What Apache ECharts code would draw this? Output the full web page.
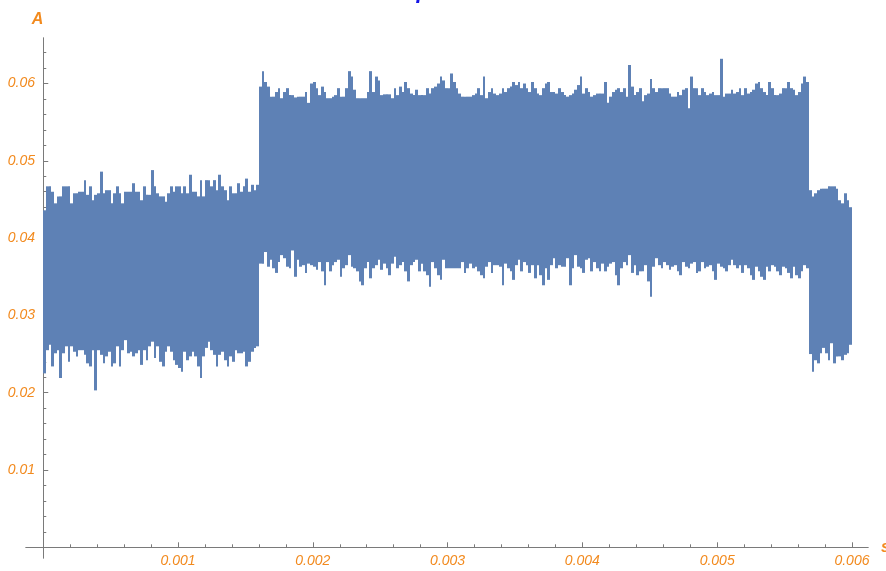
<!DOCTYPE html>
<html>
<head>
<meta charset="utf-8">
<title>Current trace</title>
<script src="https://cdn.jsdelivr.net/npm/echarts@6/dist/echarts.min.js"></script>
<style>
  html, body { margin: 0; padding: 0; background: #ffffff; }
  #chart { width: 886px; height: 571px; }
</style>
</head>
<body>
<div id="chart"></div>
<script>
// Sampled current (A): each sample holds the trough and crest of the fast oscillation
// over one sampling interval. Three segments: low level, high level, low level again.
const sampleStep = 0.00002; // s

const leftStart = 0;
const leftUpper = [
  0.0436, 0.0467, 0.0467, 0.0460, 0.0445, 0.0454, 0.0454, 0.0467, 0.0467, 0.0467,
  0.0445, 0.0458, 0.0458, 0.0460, 0.0460, 0.0475, 0.0456, 0.0467, 0.0449, 0.0456,
  0.0458, 0.0486, 0.0458, 0.0462, 0.0462, 0.0445, 0.0458, 0.0467, 0.0458, 0.0445,
  0.0460, 0.0460, 0.0460, 0.0471, 0.0460, 0.0460, 0.0449, 0.0467, 0.0456, 0.0456,
  0.0488, 0.0467, 0.0458, 0.0454, 0.0454, 0.0447, 0.0458, 0.0467, 0.0460, 0.0467,
  0.0467, 0.0458, 0.0467, 0.0458, 0.0482, 0.0460, 0.0460, 0.0454, 0.0475, 0.0454,
  0.0475, 0.0475, 0.0467, 0.0475, 0.0462, 0.0482, 0.0467, 0.0462, 0.0449, 0.0467,
  0.0458, 0.0458, 0.0471, 0.0460, 0.0467, 0.0477, 0.0460, 0.0469, 0.0462, 0.0469
];
const leftLower = [
  0.0225, 0.0255, 0.0262, 0.0234, 0.0251, 0.0255, 0.0219, 0.0251, 0.0260, 0.0240,
  0.0260, 0.0253, 0.0247, 0.0255, 0.0255, 0.0249, 0.0238, 0.0234, 0.0255, 0.0203,
  0.0255, 0.0249, 0.0238, 0.0247, 0.0253, 0.0234, 0.0238, 0.0260, 0.0234, 0.0255,
  0.0268, 0.0251, 0.0253, 0.0247, 0.0251, 0.0255, 0.0236, 0.0255, 0.0242, 0.0260,
  0.0266, 0.0245, 0.0260, 0.0240, 0.0234, 0.0253, 0.0260, 0.0253, 0.0242, 0.0236,
  0.0232, 0.0227, 0.0253, 0.0242, 0.0247, 0.0253, 0.0247, 0.0234, 0.0219, 0.0247,
  0.0258, 0.0266, 0.0255, 0.0249, 0.0234, 0.0249, 0.0253, 0.0242, 0.0234, 0.0247,
  0.0240, 0.0255, 0.0251, 0.0251, 0.0253, 0.0234, 0.0240, 0.0253, 0.0258, 0.0260
];

const highStart = 0.0016;
const highUpper = [
  0.0596, 0.0616, 0.0602, 0.0596, 0.0583, 0.0583, 0.0589, 0.0594, 0.0581, 0.0589,
  0.0594, 0.0585, 0.0585, 0.0582, 0.0583, 0.0583, 0.0583, 0.0589, 0.0575, 0.0600,
  0.0602, 0.0594, 0.0585, 0.0596, 0.0589, 0.0581, 0.0581, 0.0583, 0.0585, 0.0594,
  0.0583, 0.0583, 0.0594, 0.0616, 0.0609, 0.0592, 0.0581, 0.0581, 0.0581, 0.0581,
  0.0589, 0.0616, 0.0589, 0.0609, 0.0604, 0.0585, 0.0586, 0.0586, 0.0586, 0.0581,
  0.0594, 0.0585, 0.0596, 0.0589, 0.0602, 0.0594, 0.0587, 0.0585, 0.0592, 0.0585,
  0.0585, 0.0585, 0.0594, 0.0587, 0.0594, 0.0596, 0.0600, 0.0609, 0.0604, 0.0594,
  0.0594, 0.0613, 0.0602, 0.0594, 0.0587, 0.0583, 0.0583, 0.0583, 0.0583, 0.0585,
  0.0587, 0.0594, 0.0585, 0.0609, 0.0581, 0.0589, 0.0594, 0.0587, 0.0585, 0.0587,
  0.0594, 0.0589, 0.0594, 0.0596, 0.0602, 0.0598, 0.0602, 0.0594, 0.0600, 0.0594,
  0.0589, 0.0602, 0.0594, 0.0587, 0.0585, 0.0594, 0.0600, 0.0602, 0.0589, 0.0589,
  0.0587, 0.0594, 0.0589, 0.0585, 0.0583, 0.0585, 0.0587, 0.0592, 0.0598, 0.0609,
  0.0587, 0.0594, 0.0589, 0.0583, 0.0585, 0.0587, 0.0587, 0.0587, 0.0602, 0.0575,
  0.0583, 0.0589, 0.0592, 0.0594, 0.0589, 0.0594, 0.0583, 0.0624, 0.0596, 0.0585,
  0.0589, 0.0594, 0.0577, 0.0585, 0.0587, 0.0606, 0.0594, 0.0589, 0.0594, 0.0594,
  0.0594, 0.0594, 0.0587, 0.0583, 0.0583, 0.0589, 0.0585, 0.0592, 0.0594, 0.0568,
  0.0609, 0.0594, 0.0594, 0.0585, 0.0594, 0.0589, 0.0585, 0.0587, 0.0589, 0.0585,
  0.0585, 0.0632, 0.0583, 0.0587, 0.0587, 0.0592, 0.0587, 0.0589, 0.0594, 0.0585,
  0.0594, 0.0587, 0.0589, 0.0592, 0.0600, 0.0602, 0.0594, 0.0589, 0.0585, 0.0602,
  0.0594, 0.0585, 0.0585, 0.0587, 0.0594, 0.0594, 0.0602, 0.0594, 0.0592, 0.0585,
  0.0589, 0.0600, 0.0609, 0.0602
];
const highLower = [
  0.0367, 0.0367, 0.0382, 0.0363, 0.0372, 0.0361, 0.0355, 0.0369, 0.0378, 0.0374,
  0.0363, 0.0361, 0.0384, 0.0350, 0.0372, 0.0363, 0.0365, 0.0355, 0.0367, 0.0365,
  0.0363, 0.0359, 0.0369, 0.0357, 0.0339, 0.0369, 0.0357, 0.0365, 0.0369, 0.0372,
  0.0350, 0.0361, 0.0365, 0.0378, 0.0363, 0.0361, 0.0357, 0.0344, 0.0339, 0.0361,
  0.0369, 0.0348, 0.0361, 0.0365, 0.0372, 0.0359, 0.0367, 0.0361, 0.0352, 0.0367,
  0.0376, 0.0361, 0.0365, 0.0369, 0.0357, 0.0344, 0.0365, 0.0369, 0.0372, 0.0357,
  0.0367, 0.0357, 0.0352, 0.0337, 0.0369, 0.0361, 0.0352, 0.0346, 0.0372, 0.0361,
  0.0361, 0.0361, 0.0361, 0.0361, 0.0361, 0.0369, 0.0355, 0.0361, 0.0367, 0.0361,
  0.0363, 0.0357, 0.0352, 0.0348, 0.0363, 0.0369, 0.0355, 0.0365, 0.0365, 0.0363,
  0.0339, 0.0367, 0.0361, 0.0357, 0.0346, 0.0365, 0.0372, 0.0357, 0.0369, 0.0365,
  0.0355, 0.0365, 0.0348, 0.0365, 0.0352, 0.0339, 0.0361, 0.0346, 0.0365, 0.0374,
  0.0361, 0.0365, 0.0363, 0.0363, 0.0374, 0.0339, 0.0361, 0.0378, 0.0363, 0.0361,
  0.0355, 0.0372, 0.0374, 0.0357, 0.0369, 0.0361, 0.0357, 0.0367, 0.0357, 0.0363,
  0.0367, 0.0369, 0.0352, 0.0339, 0.0361, 0.0369, 0.0365, 0.0378, 0.0355, 0.0365,
  0.0352, 0.0357, 0.0357, 0.0365, 0.0344, 0.0324, 0.0363, 0.0374, 0.0365, 0.0361,
  0.0369, 0.0365, 0.0359, 0.0363, 0.0365, 0.0357, 0.0352, 0.0369, 0.0363, 0.0361,
  0.0367, 0.0369, 0.0355, 0.0357, 0.0369, 0.0361, 0.0363, 0.0365, 0.0357, 0.0346,
  0.0367, 0.0363, 0.0361, 0.0357, 0.0365, 0.0372, 0.0365, 0.0361, 0.0365, 0.0355,
  0.0365, 0.0361, 0.0352, 0.0346, 0.0363, 0.0357, 0.0350, 0.0346, 0.0363, 0.0357,
  0.0365, 0.0363, 0.0357, 0.0352, 0.0363, 0.0361, 0.0355, 0.0348, 0.0363, 0.0352,
  0.0348, 0.0357, 0.0365, 0.0361
];

const rightStart = 0.00568;
const rightUpper = [
  0.0462, 0.0454, 0.0458, 0.0462, 0.0464, 0.0464, 0.0464, 0.0467,
  0.0467, 0.0467, 0.0464, 0.0449, 0.0445, 0.0458, 0.0449, 0.0440
];
const rightLower = [
  0.0250, 0.0227, 0.0242, 0.0238, 0.0251, 0.0258, 0.0251, 0.0242,
  0.0264, 0.0238, 0.0247, 0.0247, 0.0242, 0.0249, 0.0251, 0.0262
];

// Axis ticks and labels
const xTickValues = [0.001, 0.002, 0.003, 0.004, 0.005, 0.006];
const xTickLabels = ['0.001', '0.002', '0.003', '0.004', '0.005', '0.006'];
const yTickValues = [0.01, 0.02, 0.03, 0.04, 0.05, 0.06];
const yTickLabels = ['0.01', '0.02', '0.03', '0.04', '0.05', '0.06'];

const xMinorStep = 0.0002;
const yMinorStep = 0.002;
function minorTicks(stepSize, count) {
  const out = [];
  for (let k = 1; k <= count; k++) out.push(+(k * stepSize).toFixed(6));
  return out;
}
const xMinorTicks = minorTicks(xMinorStep, 30);
const yMinorTicks = minorTicks(yMinorStep, 32);

// Plot range (axes cross at the origin)
const xMin = -0.000128, xMax = 0.006119;
const yMin = -0.001384, yMax = 0.06589;

const traceColor = '#5E81B5';
const axisColor = '#7a7a7a';
const labelColor = '#F28A1E';
const fontFamily = '"Liberation Sans", Arial, sans-serif';

// Build [t, low, high] rows from the segments
const segments = [
  { start: leftStart, upper: leftUpper, lower: leftLower },
  { start: highStart, upper: highUpper, lower: highLower },
  { start: rightStart, upper: rightUpper, lower: rightLower }
];
const samples = [];
segments.forEach(seg => {
  seg.upper.forEach((hi, k) => {
    samples.push([seg.start + k * sampleStep, seg.lower[k], hi]);
  });
});

// One column per sample, edges snapped to whole pixels so neighbours join without seams
function renderSample(params, api) {
  const t = api.value(0);
  const lo = api.value(1);
  const hi = api.value(2);
  const topLeft = api.coord([t, hi]);
  const bottomRight = api.coord([t + sampleStep, lo]);
  const x0 = Math.round(topLeft[0]);
  const x1 = Math.round(bottomRight[0]);
  return {
    type: 'rect',
    shape: {
      x: x0,
      y: topLeft[1],
      width: x1 - x0,
      height: bottomRight[1] - topLeft[1]
    },
    style: { fill: traceColor }
  };
}

const labelStyle = {
  color: labelColor,
  fontStyle: 'italic',
  fontSize: 14,
  fontFamily: fontFamily
};

const chart = echarts.init(document.getElementById('chart'), null, { renderer: 'canvas' });
chart.setOption({
  animation: false,
  backgroundColor: '#ffffff',
  grid: { left: 26, right: 18, top: 38, bottom: 13, containLabel: false, outerBoundsMode: 'none' },
  graphic: [{
    type: 'text',
    x: 381,
    y: -8,
    style: {
      text: 'Amplitude',
      fill: '#1414E6',
      font: 'italic bold 22px "Liberation Sans", Arial, sans-serif',
      verticalAlign: 'middle'
    }
  }],
  xAxis: [{
    type: 'value',
    min: xMin,
    max: xMax,
    position: 'bottom',
    name: 's',
    nameLocation: 'end',
    nameGap: 13,
    nameTextStyle: {
      color: labelColor, fontStyle: 'italic', fontWeight: 'bold',
      fontSize: 16, fontFamily: fontFamily, verticalAlign: 'middle'
    },
    axisLine: { onZero: true, lineStyle: { color: axisColor, width: 1 } },
    axisTick: { inside: true, length: 5, customValues: xTickValues, lineStyle: { color: axisColor } },
    axisLabel: Object.assign({
      customValues: xTickValues,
      margin: -3.5,
      formatter: v => xTickLabels[xTickValues.findIndex(x => Math.abs(x - v) < 1e-9)] || ''
    }, labelStyle),
    splitLine: { show: false }
  }, {
    type: 'value',
    min: xMin,
    max: xMax,
    position: 'bottom',
    offset: 0,
    axisLine: { onZero: true, lineStyle: { color: axisColor, width: 1 } },
    axisTick: { inside: true, length: 3, customValues: xMinorTicks, lineStyle: { color: axisColor } },
    axisLabel: { show: false },
    splitLine: { show: false }
  }],
  yAxis: [{
    type: 'value',
    min: yMin,
    max: yMax,
    position: 'left',
    name: 'A',
    nameLocation: 'end',
    nameGap: 10,
    nameTextStyle: {
      color: labelColor, fontStyle: 'italic', fontWeight: 'bold',
      fontSize: 16, fontFamily: fontFamily, align: 'right'
    },
    axisLine: { onZero: true, lineStyle: { color: axisColor, width: 1 } },
    axisTick: { inside: true, length: 5, customValues: yTickValues, lineStyle: { color: axisColor } },
    axisLabel: Object.assign({
      customValues: yTickValues,
      margin: -9,
      formatter: v => yTickLabels[yTickValues.findIndex(y => Math.abs(y - v) < 1e-9)] || ''
    }, labelStyle),
    splitLine: { show: false }
  }, {
    type: 'value',
    min: yMin,
    max: yMax,
    position: 'left',
    offset: 0,
    axisLine: { onZero: true, lineStyle: { color: axisColor, width: 1 } },
    axisTick: { inside: true, length: 3, customValues: yMinorTicks, lineStyle: { color: axisColor } },
    axisLabel: { show: false },
    splitLine: { show: false }
  }],
  series: [{
    type: 'custom',
    name: 'current',
    xAxisIndex: 0,
    yAxisIndex: 0,
    renderItem: renderSample,
    dimensions: ['t', 'low', 'high'],
    encode: { x: 0, y: [1, 2] },
    data: samples,
    clip: true
  }]
});
</script>
</body>
</html>
